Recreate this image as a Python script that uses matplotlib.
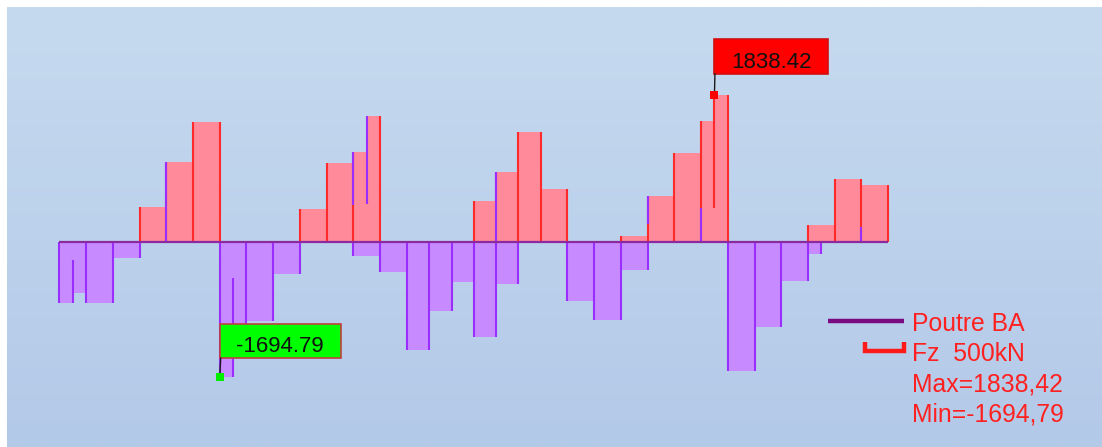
import numpy as np
import matplotlib
matplotlib.use("Agg")
import matplotlib.pyplot as plt
from matplotlib import transforms as mtransforms
from matplotlib.patches import Rectangle
from matplotlib.lines import Line2D
from matplotlib.colors import LinearSegmentedColormap

# Shear force envelope Fz (kN) along the RC beam, piecewise constant per element
stations = [0, 0.5, 1, 2, 3, 4, 5, 6, 6.5, 7, 8, 9, 10, 11, 11.5, 12, 13,
            13.83, 14.67, 15.5, 16.33, 17.17, 18, 19, 20, 21, 22, 23, 24,
            24.5, 25, 26, 27, 28, 28.5, 29, 30, 31]
fz_max = [0, 0, 0, 0, 437, 1001, 1503, 0, 0, 0, 0, 408, 989, 1119, 1575, 0,
          0, 0, 0, 508, 872, 1370, 659, 0, 0, 65, 567, 1111, 1512, 1838.42,
          0, 0, 0, 203, 203, 780, 709]
fz_min = [-768, -643, -768, -211, 0, 0, 0, -1694.79, -1200, -1000, -412, 0,
          0, -178, -178, -387, -1362, -872, -512, -1203, -537, 0, 0, -747,
          -985, -358, 0, 0, 0, 0, -1621, -1069, -496, -161, 0, 0, 0]
# element subdivisions (no boundary stroke drawn where both sides carry a value)
sub_stations = [0.5, 6.5, 11.5, 24.5, 28.5]
# extra boundary strokes drawn over the envelope
stroke_x = [0.5, 4, 6.5, 11, 11.5, 16.33, 22, 24, 24.5, 30]
stroke_lo = [-768, 0, -1694.79, 458, 467, 0, 220, 0, 420, 0]
stroke_hi = [-232, 1001, -464, 1119, 1575, 872, 567, 420, 1838.42, 185]
stroke_kind = ["min", "min", "min", "min", "min", "min", "min", "min", "max", "min"]

peak_x, peak_value = 24.5, 1838.42
trough_x, trough_value = 6, -1694.79
legend_member = "Poutre BA"
legend_scale = "Fz  500kN"

PINK = "#ff8a99"
RED_EDGE = "#ff2a2a"
VIOLET = "#c88bff"
VIOLET_EDGE = "#9a2eff"
BASE = "#8b2a9e"
TEXT_RED = "#ff2020"

W, H = 1102, 447
fig = plt.figure(figsize=(W / 100, H / 100), dpi=100)
fig.patch.set_facecolor("white")

# soft blue gradient backdrop
bg = fig.add_axes([7 / W, 0, 1 - 7 / W, 1 - 7 / H])
bg.axis("off")
grad = np.linspace(0, 1, 256).reshape(-1, 1)
cmap = LinearSegmentedColormap.from_list("bg", ["#c6daef", "#b3c9e8"])
bg.imshow(grad, aspect="auto", cmap=cmap, extent=[0, 1, 0, 1], origin="upper")

# diagram axes: metres along x, kN along y
PX_PER_M = 26.74
X0_PX = 59.3
KN_PER_PX = 12.55
Y0_PX = 241.5
ax = fig.add_axes([0, 0, 1, 1])
ax.set_facecolor("none")
ax.axis("off")
ax.set_xlim(-X0_PX / PX_PER_M, (W - X0_PX) / PX_PER_M)
ax.set_ylim(-(H - Y0_PX) * KN_PER_PX, Y0_PX * KN_PER_PX)

st = np.array(stations, dtype=float)
left = st[:-1]
width = np.diff(st)
ax.bar(left, fz_max, width=width, align="edge", color=PINK, linewidth=0, zorder=2)
ax.bar(left, fz_min, width=width, align="edge", color=VIOLET, linewidth=0, zorder=2)

# element boundary strokes
n = len(fz_max)
for vals, col in ((fz_max, RED_EDGE), (fz_min, VIOLET_EDGE)):
    for i, x in enumerate(stations):
        lv = vals[i - 1] if i > 0 else 0
        rv = vals[i] if i < n else 0
        if x in sub_stations and lv != 0 and rv != 0:
            continue
        v = lv if abs(lv) >= abs(rv) else rv
        if v != 0:
            ax.vlines(x, 0, v, color=col, lw=1.5, zorder=3)

ax.vlines(stroke_x, stroke_lo, stroke_hi,
          colors=[RED_EDGE if k == "max" else VIOLET_EDGE for k in stroke_kind],
          lw=1.5, zorder=4)

ax.hlines(0, stations[0], stations[-1], color=BASE, lw=1.6, zorder=5)


def pin(x, value, box, text_pos, face, edge, dot):
    """Value flag anchored on a diagram point; offsets are in pixels."""
    disp = ax.transData.transform((x, value))
    tr = mtransforms.Affine2D().translate(*disp)
    (bx0, bx1), (by0, by1) = box
    fig.add_artist(Rectangle((bx0, by0), bx1 - bx0, by1 - by0, transform=tr,
                             facecolor=face, edgecolor=edge, lw=1.2, zorder=10))
    fig.add_artist(Line2D([0, bx0 + 0.5], [0, by0], transform=tr,
                          color="#1a1a1a", lw=1.0, zorder=11))
    fig.add_artist(Rectangle((-4, -4), 8, 8, transform=tr,
                             facecolor=dot, edgecolor="none", zorder=12))
    t = fig.text(text_pos[0], text_pos[1], f"{value:.2f}", transform=tr,
                 ha="center", va="baseline", fontsize=16,
                 family="Liberation Sans", color="#111111", zorder=13)
    return t


pin(peak_x, peak_value, ((0, 113.4), (21, 55.7)), (57.4, 27.3),
    "#ff0000", "#d01010", "#ff0000")
pin(trough_x, trough_value, ((0.5, 121.2), (18.4, 52.7)), (60.3, 25.0),
    "#00ff00", "#c04040", "#00ee00")

# legend block (pixel coordinates, y measured from the top edge)
pix = mtransforms.IdentityTransform()
fig.add_artist(Line2D([828.3, 904], [H - 321.2] * 2, transform=pix,
                      color="#7a0a82", lw=3.2, solid_capstyle="butt", zorder=10))
fig.add_artist(Line2D([865, 865, 904.2, 904.2],
                      [H - 342, H - 350.8, H - 350.8, H - 342], transform=pix,
                      color="#ff1a1a", lw=3.2, solid_joinstyle="miter",
                      solid_capstyle="butt", zorder=10))
legend_lines = [
    legend_member,
    legend_scale,
    "Max=" + f"{peak_value:.2f}".replace(".", ","),
    "Min=" + f"{trough_value:.2f}".replace(".", ","),
]
for txt, base_y in zip(legend_lines, [330.7, 361.0, 391.7, 421.7]):
    fig.text(912, H - base_y, txt, transform=pix, ha="left", va="baseline",
             fontsize=17.8, family="Liberation Sans", color=TEXT_RED, zorder=10)

fig.savefig("out.png", dpi=100)
